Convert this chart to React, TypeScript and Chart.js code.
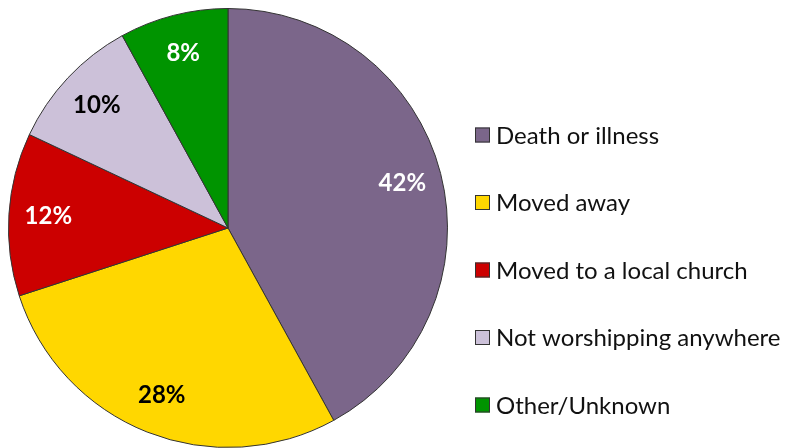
import React, { useEffect, useRef } from "react";
import { Chart, registerables } from "chart.js";

Chart.register(...registerables);

const categories = [
  "Death or illness",
  "Moved away",
  "Moved to a local church",
  "Not worshipping anywhere",
  "Other/Unknown",
];
const values = [42, 28, 12, 10, 8];
const colors = ["#7B668A", "#FFD700", "#CC0000", "#CCC1D9", "#009400"];
const labelColors = ["#FFFFFF", "#000000", "#FFFFFF", "#000000", "#FFFFFF"];

const FONT = "Lato, 'Open Sans', sans-serif";

const labelPlugin = {
  id: "sliceLabels",
  afterDatasetsDraw(chart: any) {
    const ctx = chart.ctx;
    const meta = chart.getDatasetMeta(0);
    const total = values.reduce((a, b) => a + b, 0);
    ctx.save();
    ctx.font = `bold 24px ${FONT}`;
    ctx.textAlign = "center";
    ctx.textBaseline = "middle";
    meta.data.forEach((arc: any, i: number) => {
      const { x, y, startAngle, endAngle, outerRadius } = arc.getProps(
        ["x", "y", "startAngle", "endAngle", "outerRadius"],
        true
      );
      const mid = (startAngle + endAngle) / 2;
      const r = outerRadius * 0.82;
      ctx.fillStyle = labelColors[i];
      const pct = Math.round((values[i] / total) * 100);
      ctx.fillText(`${pct}%`, x + Math.cos(mid) * r, y + Math.sin(mid) * r);
    });
    ctx.restore();
  },
};

const legendPlugin = {
  id: "sideLegend",
  afterDraw(chart: any) {
    const ctx = chart.ctx;
    const x0 = 475;
    const yTop = 135;
    const step = 67.5;
    const box = 15;
    ctx.save();
    ctx.font = `24px ${FONT}`;
    ctx.textBaseline = "middle";
    ctx.textAlign = "left";
    categories.forEach((c, i) => {
      const cy = yTop + i * step;
      ctx.fillStyle = colors[i];
      ctx.fillRect(x0, cy - box / 2, box, box);
      ctx.strokeStyle = "#333333";
      ctx.lineWidth = 1;
      ctx.strokeRect(x0 + 0.5, cy - box / 2 + 0.5, box - 1, box - 1);
      ctx.fillStyle = "#111111";
      ctx.fillText(c, x0 + box + 6, cy + 1);
    });
    ctx.restore();
  },
};

export default function App() {
  const ref = useRef<HTMLCanvasElement | null>(null);
  useEffect(() => {
    if (!ref.current) return;
    const chart = new Chart(ref.current, {
      type: "pie",
      data: {
        labels: categories,
        datasets: [
          {
            data: values,
            backgroundColor: colors,
            borderColor: "#333333",
            borderWidth: 1,
          },
        ],
      },
      options: {
        animation: false,
        responsive: false,
        layout: { padding: { left: 8, top: 8, right: 346, bottom: 0 } },
        plugins: {
          legend: { display: false },
          tooltip: { enabled: false },
        },
      },
      plugins: [labelPlugin, legendPlugin],
    });
    return () => chart.destroy();
  }, []);
  return (
    <div style={{ position: "absolute", left: 0, top: 0, width: 794, height: 448, background: "#fff" }}>
      <canvas ref={ref} width={794} height={448} style={{ width: 794, height: 448 }} />
    </div>
  );
}
